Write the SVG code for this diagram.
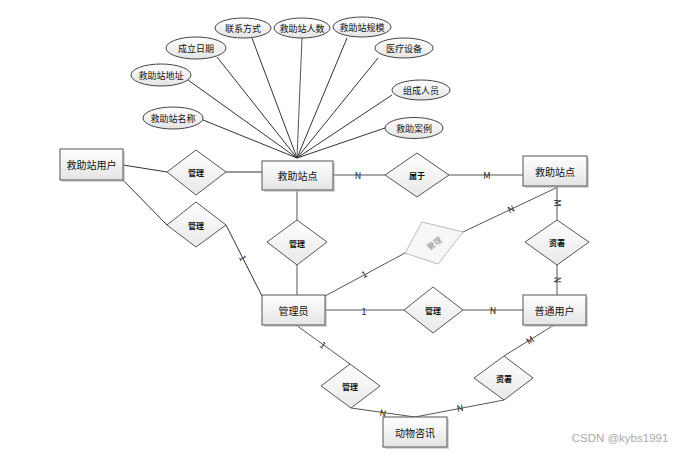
<svg xmlns="http://www.w3.org/2000/svg" width="680" height="452" viewBox="0 0 680 452">
<defs>
<linearGradient id="g" x1="0" y1="0" x2="0" y2="1"><stop offset="0" stop-color="#ffffff"/><stop offset="1" stop-color="#e4e4e4"/></linearGradient>
<linearGradient id="gd" x1="0" y1="0" x2="0" y2="1"><stop offset="0" stop-color="#ffffff"/><stop offset="1" stop-color="#e8e8e8"/></linearGradient>
<style>
text{font-family:"Noto Sans CJK SC","Liberation Sans",sans-serif;fill:#111;text-anchor:middle;dominant-baseline:central}
.box rect.b{fill:url(#g);stroke:#555;stroke-width:1}
.box rect.s{fill:#bbb;opacity:0.6}
.box text{font-size:10px}
.att ellipse{fill:url(#g);stroke:#444;stroke-width:1}
.att text{font-size:9px}
.rel polygon{fill:url(#gd);stroke:#555;stroke-width:1}
.rel text{font-size:8px;font-weight:bold}
.faded polygon{fill:#f7f7f7;stroke:#bbb}
.faded text{fill:#888;font-weight:normal}
.conn line,.conn polyline{stroke:#333;stroke-width:1;fill:none}
.conn line.g,.conn polyline.g{stroke:#555}
.lbl{font-size:9px;fill:#222}
</style>
</defs>
<rect width="680" height="452" fill="#fff"/>
<g class="conn" id="connectors">
<line x1="252" y1="38" x2="297" y2="158"/>
<line x1="302" y1="38" x2="297" y2="158" class="g"/>
<line x1="347" y1="38" x2="297" y2="158"/>
<line x1="217" y1="57" x2="297" y2="158"/>
<line x1="378" y1="58" x2="297" y2="158"/>
<line x1="188" y1="80" x2="297" y2="158"/>
<line x1="392" y1="95" x2="297" y2="158"/>
<line x1="203" y1="120" x2="297" y2="158"/>
<line x1="385" y1="128" x2="297" y2="158"/>
<line x1="123" y1="165" x2="167" y2="172"/>
<line x1="226" y1="172" x2="262" y2="172"/>
<line x1="123" y1="180" x2="167" y2="225"/>
<line x1="226" y1="225" x2="262" y2="296"/>
<line x1="297" y1="190" x2="297" y2="220" class="g"/>
<line x1="297" y1="265" x2="297" y2="296" class="g"/>
<line x1="333" y1="175" x2="385" y2="175" class="g"/>
<line x1="449" y1="175" x2="523" y2="175" class="g"/>
<line x1="325" y1="296" x2="405" y2="253" class="g"/>
<line x1="463" y1="232" x2="558" y2="187" class="g"/>
<line x1="557" y1="186" x2="557" y2="220" class="g"/>
<line x1="557" y1="265" x2="557" y2="295" class="g"/>
<line x1="325" y1="310" x2="404" y2="310" class="g"/>
<line x1="463" y1="310" x2="523" y2="310" class="g"/>
<line x1="296" y1="325" x2="350" y2="364" class="g"/>
<polyline points="351,408 415,417 504,400" class="g"/>
<line x1="554" y1="325" x2="504" y2="356" class="g"/>
<text class="lbl" x="358" y="175">N</text>
<text class="lbl" x="487" y="175">M</text>
<text class="lbl" transform="translate(243,258) rotate(63)">1</text>
<text class="lbl" transform="translate(364,274) rotate(-28)">1</text>
<text class="lbl" transform="translate(511,209) rotate(-25)">N</text>
<text class="lbl" transform="translate(557,203) rotate(90)">M</text>
<text class="lbl" transform="translate(557,280) rotate(90)">N</text>
<text class="lbl" x="364" y="311">1</text>
<text class="lbl" x="493" y="310">N</text>
<text class="lbl" transform="translate(323,345) rotate(36)">1</text>
<text class="lbl" transform="translate(383,413) rotate(8)">N</text>
<text class="lbl" transform="translate(460,408) rotate(-11)">N</text>
<text class="lbl" transform="translate(530,340) rotate(-32)">M</text>
</g>
<g class="att" id="a1"><ellipse cx="243" cy="28" rx="28" ry="10"/><text x="243" y="28">联系方式</text></g>
<g class="att" id="a2"><ellipse cx="302" cy="28" rx="28" ry="10"/><text x="302" y="28">救助站人数</text></g>
<g class="att" id="a3"><ellipse cx="362" cy="27" rx="29" ry="10"/><text x="362" y="27">救助站规模</text></g>
<g class="att" id="a4"><ellipse cx="196" cy="48" rx="30" ry="11"/><text x="196" y="48">成立日期</text></g>
<g class="att" id="a5"><ellipse cx="404" cy="48" rx="29" ry="10"/><text x="404" y="48">医疗设备</text></g>
<g class="att" id="a6"><ellipse cx="161" cy="75" rx="30" ry="11"/><text x="161" y="75">救助站地址</text></g>
<g class="att" id="a7"><ellipse cx="421" cy="90" rx="29" ry="10"/><text x="421" y="90">组成人员</text></g>
<g class="att" id="a8"><ellipse cx="173" cy="118" rx="30" ry="11"/><text x="173" y="118">救助站名称</text></g>
<g class="att" id="a9"><ellipse cx="414" cy="128" rx="29" ry="10.5"/><text x="414" y="128">救助案例</text></g>
<g class="box" id="e1"><rect class="s" x="62" y="151" width="63" height="31"/><rect class="b" x="60" y="149" width="63" height="31"/><text x="91.5" y="164.5">救助站用户</text></g>
<g class="box" id="e2"><rect class="s" x="264" y="163" width="71" height="29"/><rect class="b" x="262" y="161" width="71" height="29"/><text x="297.5" y="175.5">救助站点</text></g>
<g class="box" id="e3"><rect class="s" x="525" y="158" width="64" height="30"/><rect class="b" x="523" y="156" width="64" height="30"/><text x="555" y="171">救助站点</text></g>
<g class="box" id="e4"><rect class="s" x="264" y="297" width="63" height="30"/><rect class="b" x="262" y="295" width="63" height="30"/><text x="293.5" y="310">管理员</text></g>
<g class="box" id="e5"><rect class="s" x="525" y="297" width="63" height="30"/><rect class="b" x="523" y="295" width="63" height="30"/><text x="554.5" y="310">普通用户</text></g>
<g class="box" id="e6"><rect class="s" x="385" y="419" width="64" height="30"/><rect class="b" x="383" y="417" width="64" height="30"/><text x="415" y="432">动物咨讯</text></g>
<g class="rel" id="r1"><polygon points="196,150 226,172 196,195 167,172"/><text x="196" y="172">管理</text></g>
<g class="rel" id="r2"><polygon points="196,202 226,225 196,247 167,225"/><text x="196" y="225">管理</text></g>
<g class="rel" id="r3"><polygon points="297,220 327,242 297,265 267,242"/><text x="297" y="243">管理</text></g>
<g class="rel" id="r4"><polygon points="417,153 449,175 417,197 385,175"/><text x="417" y="175">属于</text></g>
<g class="rel faded" id="r5"><polygon points="422,222 463,232 438,264 405,253"/><text transform="translate(434,243) rotate(-35)">管理</text></g>
<g class="rel" id="r6"><polygon points="557,220 589,242 557,265 525,242"/><text x="557" y="242">资署</text></g>
<g class="rel" id="r7"><polygon points="433,287 463,310 433,333 404,310"/><text x="433" y="310">管理</text></g>
<g class="rel" id="r8"><polygon points="350,364 380,386 351,408 321,386"/><text x="350" y="386">管理</text></g>
<g class="rel" id="r9"><polygon points="504,356 533,378 504,400 474,378"/><text x="504" y="378">资署</text></g>
<text x="620" y="438" style="font-family:'Liberation Sans',sans-serif;font-size:11.5px;fill:#aaa">CSDN @kybs1991</text>
</svg>
